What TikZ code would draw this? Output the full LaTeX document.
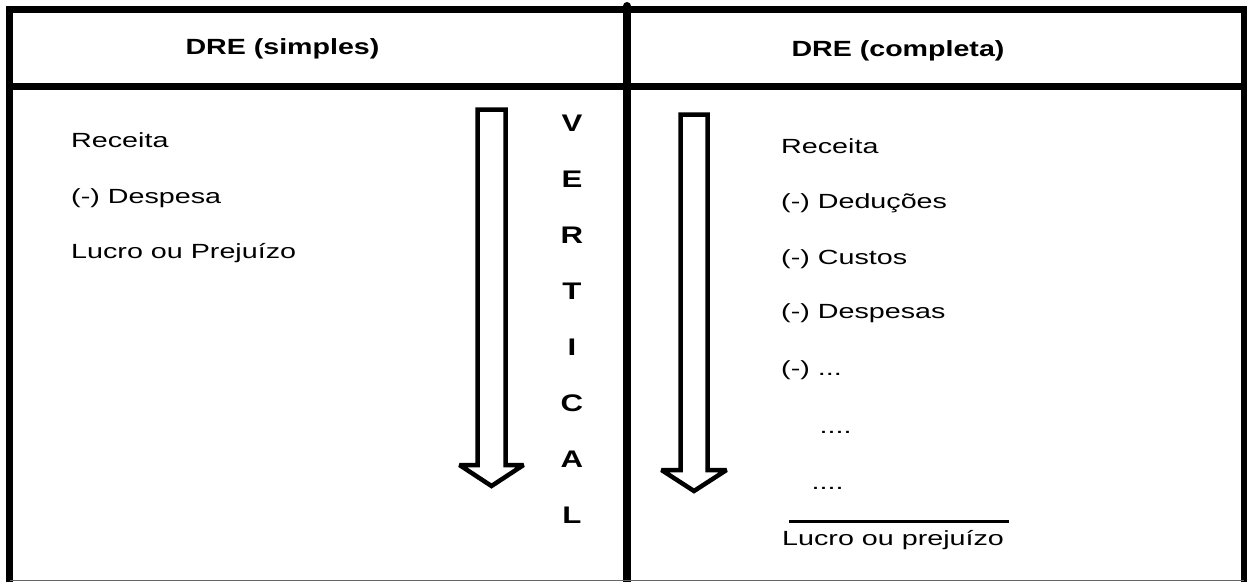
\documentclass[tikz,border=0pt]{standalone}
\usepackage{fontspec}
\setmainfont{Liberation Sans}[FakeStretch=1.4]
\newfontfamily\hdfont{Liberation Sans}[FakeStretch=1.3]
\begin{document}
\begin{tikzpicture}[x=1pt,y=-1pt,
  body/.style={anchor=base west,inner sep=0pt,font=\fontsize{20.5}{24}\selectfont},
  head/.style={anchor=base,inner sep=0pt,font=\hdfont\bfseries\fontsize{22}{26}\selectfont},
  vlet/.style={anchor=base,inner sep=0pt,font=\hdfont\bfseries\fontsize{24}{28}\selectfont},
  frame/.style={line width=6.5pt},
  hollow/.style={line width=4.5pt,line join=miter,miter limit=2,fill=white}]
\useasboundingbox (0,0) rectangle (1247,581);
\begin{scope}
\clip (0,0) rectangle (1247,581);
% table frame
\draw[frame] (9.5,590) -- (9.5,9.5) -- (1250,9.5);
\draw[frame] (1244,9.5) -- (1244,590);
\draw[frame] (9.5,86.5) -- (1244,86.5);
\draw[line width=8pt,line cap=round] (627,6) -- (627,590);
\draw[line width=1pt,black!60] (9.5,580) -- (1244,580);
% arrows
\draw[hollow] (477.5,109.5) -- (505.5,109.5) -- (505.5,465) -- (523.5,465)
  -- (491.5,486) -- (459.5,465) -- (477.5,465) -- cycle;
\draw[hollow] (680.5,114.5) -- (707.5,114.5) -- (707.5,470) -- (726.5,470)
  -- (694,491) -- (661.5,470) -- (680.5,470) -- cycle;
\end{scope}
% headers
\node[head] (h1) at (282.5,54) {DRE (simples)};
\node[head] (h2) at (898,56) {DRE (completa)};
% left column
\node[body] (l1) at (71,147) {Receita};
\node[body] (l2) at (71,203) {(-) Despesa};
\node[body] (l3) at (71,258) {Lucro ou Prejuízo};
% VERTICAL
\node[vlet] (v1) at (572,131) {V};
\node[vlet] (v2) at (572,187) {E};
\node[vlet] (v3) at (572,243) {R};
\node[vlet] (v4) at (572,299) {T};
\node[vlet] (v5) at (572,355) {I};
\node[vlet] (v6) at (572,411) {C};
\node[vlet] (v7) at (572,467) {A};
\node[vlet] (v8) at (572,523) {L};
% right column
\node[body] (r1) at (781,153) {Receita};
\node[body] (r2) at (781,208.5) {(-) Deduções};
\node[body] (r3) at (781,264) {(-) Custos};
\node[body] (r4) at (781,318.5) {(-) Despesas};
\node[body] (r5) at (781,375) {(-) ...};
\node[body] (r6) at (819.5,433) {....};
\node[body] (r7) at (811.5,489) {....};
\coordinate (s1) at (789,521);
\coordinate (s2) at (1009,521);
\draw[line width=3pt] (s1) -- (s2);
\node[body] (r8) at (782,545) {Lucro ou prejuízo};
\end{tikzpicture}
\end{document}
